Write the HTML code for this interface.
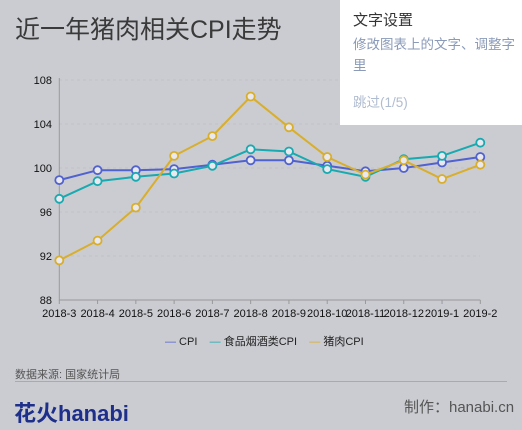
<!DOCTYPE html>
<html><head><meta charset="utf-8"><style>
body{margin:0;width:522px;height:430px;overflow:hidden;background:#cbccd1;font-family:"Liberation Sans","Noto Sans CJK SC",sans-serif;position:relative}
.t{position:absolute;white-space:nowrap}
</style></head><body>
<div class="t" style="left:15px;top:10px;font-size:25px;color:#3a3a3a">近一年猪肉相关CPI走势</div>
<svg width="522" height="430" style="position:absolute;left:0;top:0">
<g id="grid"></g><g id="axes"></g><g id="series"></g>
</svg>
<div style="position:absolute;left:340px;top:0;width:182px;height:125px;background:#fff">
<div class="t" style="left:13px;top:9px;font-size:15px;color:#333">文字设置</div>
<div style="position:absolute;left:13px;top:34px;width:168px;font-size:13.5px;line-height:21px;color:#8a9ab8">修改图表上的文字、调整字里</div>
<div class="t" style="left:13px;top:91px;font-size:13.5px;color:#b0bcd0">跳过(1/5)</div>
</div>
<div class="t" style="left:165px;top:333px;font-size:11px;color:#222">
<span><span style="color:#5061d0">—</span> CPI</span>&nbsp;&nbsp;&nbsp;
<span><span style="color:#17aab0">—</span> 食品烟酒类CPI</span>&nbsp;&nbsp;&nbsp;
<span><span style="color:#d9ae2a">—</span> 猪肉CPI</span></div>
<div class="t" style="left:15px;top:366px;font-size:11px;color:#555">数据来源: 国家统计局</div>
<div style="position:absolute;left:15px;top:381px;width:492px;height:1px;background:#aaa"></div>
<div class="t" style="left:14px;top:396px;font-size:22px;font-weight:bold;color:#1d2f8a">花火hanabi</div>
<div class="t" style="left:404px;top:396px;font-size:15px;color:#555">制作：hanabi.cn</div>
<script>
const categories=["2018-3","2018-4","2018-5","2018-6","2018-7","2018-8","2018-9","2018-10","2018-11","2018-12","2019-1","2019-2"];
const cpi=[98.9,99.8,99.8,99.9,100.3,100.7,100.7,100.2,99.7,100.0,100.5,101.0];
const food=[97.2,98.8,99.2,99.5,100.2,101.7,101.5,99.9,99.2,100.8,101.1,102.3];
const pork=[91.6,93.4,96.4,101.1,102.9,106.5,103.7,101.0,99.4,100.7,99.0,100.3];
const yTicks=[88,92,96,100,104,108];
const ns="http://www.w3.org/2000/svg";
const x=i=>59.3+i*(480.3-59.3)/(categories.length-1);
const y=v=>300-(v-88)*11;
function mk(tag,attrs,parent){const e=document.createElementNS(ns,tag);for(const k in attrs)e.setAttribute(k,attrs[k]);document.getElementById(parent).appendChild(e);return e;}
yTicks.forEach(t=>{
 if(t>88){const g=mk('line',{x1:59,x2:480,y1:y(t),y2:y(t),stroke:'#c0c0c6','stroke-dasharray':'3,3'},'grid');}
 const l=mk('text',{x:52,y:y(t)+4,'text-anchor':'end','font-size':11,fill:'#111'},'axes');l.textContent=t;
 
});
const ax=mk('path',{d:`M59.3 ${y(108)-2}V300H480.3`,stroke:'#999',fill:'none'},'axes');

categories.forEach((c,i)=>{
 mk('line',{x1:x(i),x2:x(i),y1:300,y2:304,stroke:'#999'},'axes');
 const l=mk('text',{x:x(i),y:317,'text-anchor':'middle','font-size':11,fill:'#111'},'axes');l.textContent=c;
 
});
[[cpi,'#5061d0','cpi'],[food,'#17aab0','food'],[pork,'#d9ae2a','pork']].forEach(([d,col,n])=>{
 const p=mk('polyline',{points:d.map((v,i)=>x(i)+','+y(v)).join(' '),fill:'none',stroke:col,'stroke-width':2},'series');
 
 d.forEach((v,i)=>{const c=mk('circle',{cx:x(i),cy:y(v),r:4,fill:'#e8e8ee',stroke:col,'stroke-width':1.8},'series');
 });
});
</script>
</body></html>
